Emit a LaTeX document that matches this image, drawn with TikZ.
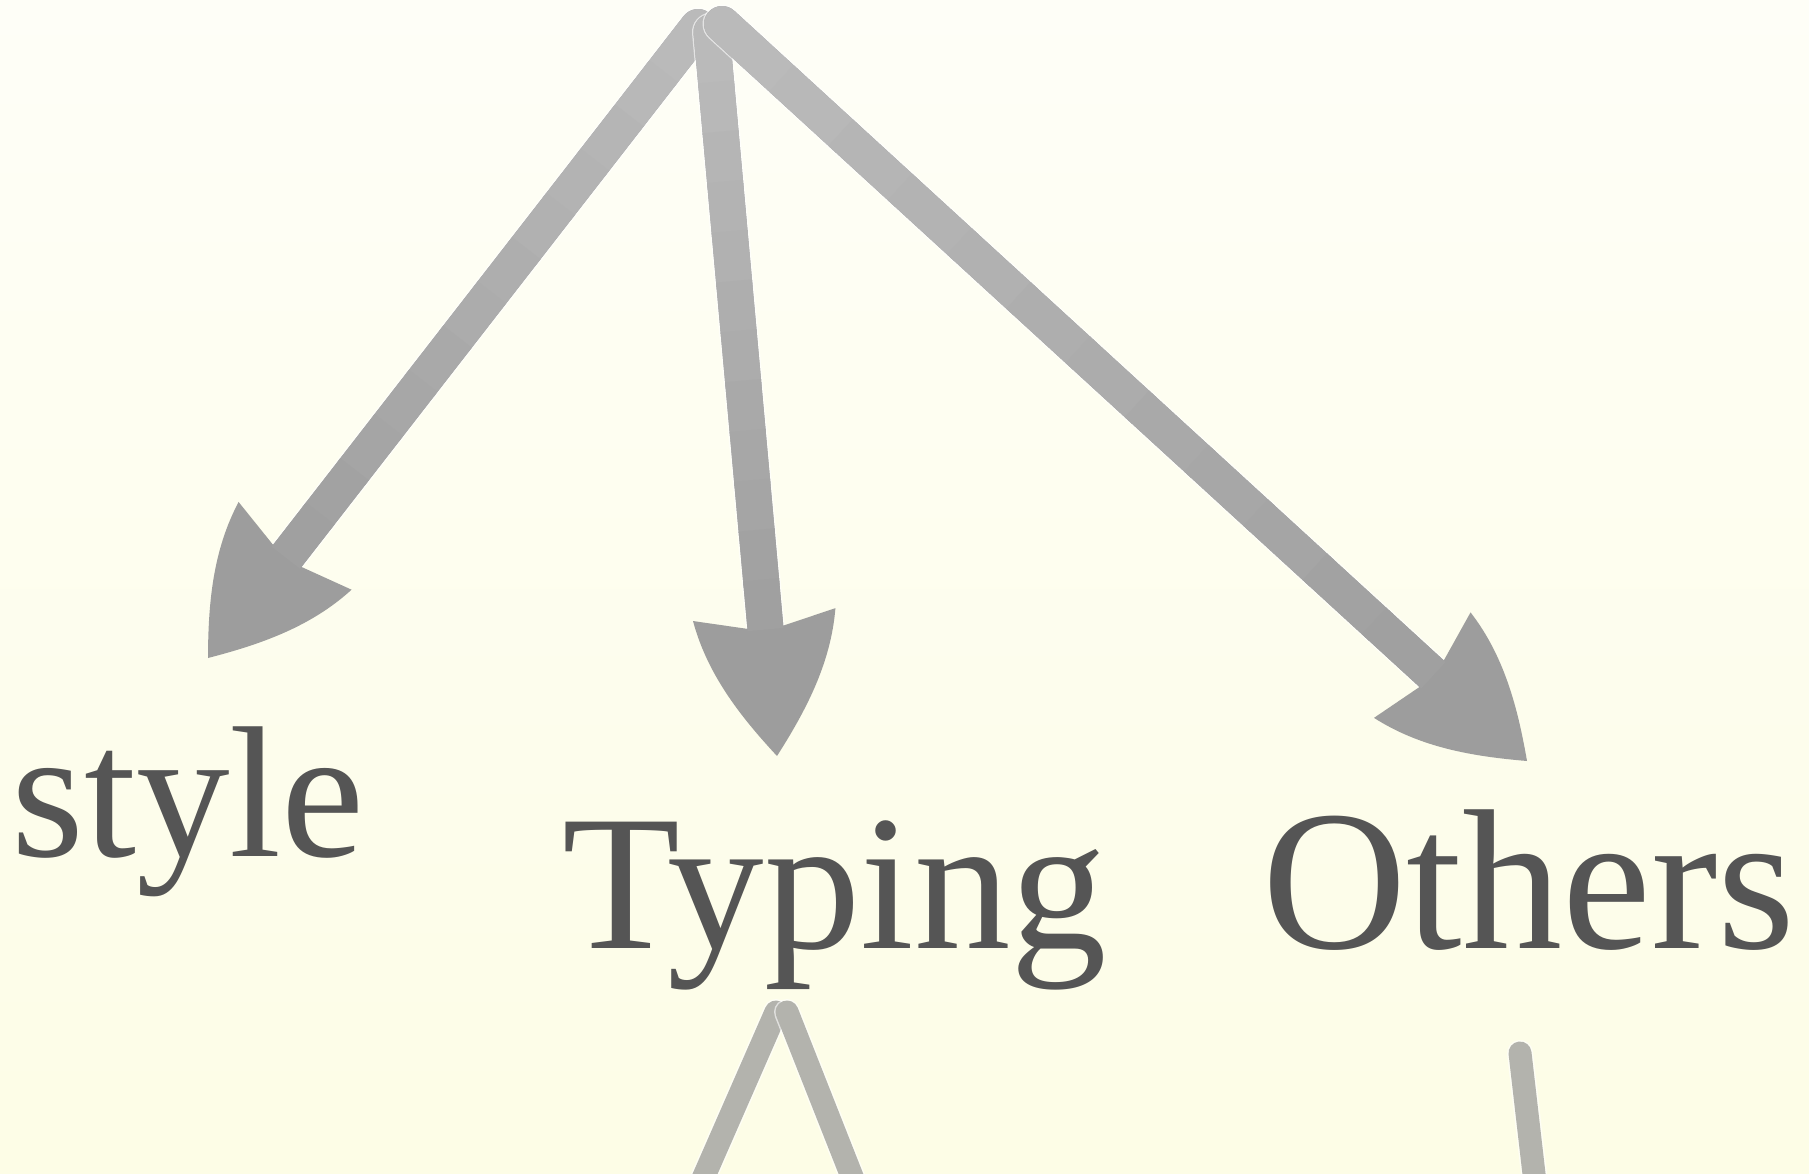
\documentclass[tikz,border=0pt]{standalone}
\usepackage{fontspec}
\setmainfont{Liberation Serif}
\usetikzlibrary{arrows.meta,calc}

\pgfdeclarearrow{
  name = CStealth,
  parameters = {\the\pgfarrowlength,\the\pgfarrowwidth,\the\pgfarrowinset},
  setup code = {
    \pgfarrowssettipend{0pt}
    \pgfarrowssetbackend{-\pgfarrowlength}
    \pgfmathparse{-\pgfarrowlength+\pgfarrowinset}
    \pgfarrowssetlineend{\pgfmathresult pt}
    \pgfarrowssetvisualbackend{\pgfmathresult pt}
    \pgfarrowshullpoint{0pt}{0pt}
    \pgfarrowsupperhullpoint{-\pgfarrowlength}{.5\pgfarrowwidth}
    \pgfarrowssavethe\pgfarrowlength
    \pgfarrowssavethe\pgfarrowwidth
    \pgfarrowssavethe\pgfarrowinset
  },
  drawing code = {
    \pgfpathmoveto{\pgfpointorigin}
    \pgfpathcurveto{\pgfpoint{-.30\pgfarrowlength}{.23\pgfarrowwidth}}{\pgfpoint{-.616\pgfarrowlength}{.434\pgfarrowwidth}}{\pgfpoint{-\pgfarrowlength}{.5\pgfarrowwidth}}
    \pgfpathlineto{\pgfpoint{-\pgfarrowlength+\pgfarrowinset}{0pt}}
    \pgfpathlineto{\pgfpoint{-\pgfarrowlength}{-.5\pgfarrowwidth}}
    \pgfpathcurveto{\pgfpoint{-.616\pgfarrowlength}{-.434\pgfarrowwidth}}{\pgfpoint{-.30\pgfarrowlength}{-.23\pgfarrowwidth}}{\pgfpointorigin}
    \pgfpathclose
    \pgfusepathqfill
  },
  defaults = {length=142pt, width=143pt, inset=17pt}
}

\definecolor{bgtop}{HTML}{FEFEF7}
\definecolor{bgbot}{HTML}{FDFDE6}
\definecolor{txt}{HTML}{555555}
\definecolor{headgray}{HTML}{9D9D9D}
\definecolor{shaftlight}{HTML}{BABABA}
\definecolor{shaftdark}{HTML}{A0A0A0}
\definecolor{thingray}{HTML}{B3B3AD}

\begin{document}
\begin{tikzpicture}[x=1pt,y=-1pt,
  lbl/.style={text=txt, inner sep=0pt, anchor=base},
  halo/.style={line width=39pt, line cap=round, draw=white, draw opacity=0.6},
  edge/.style={line width=36pt, line cap=round, draw=headgray, fill=headgray, -{CStealth}},
  thinedge/.style={line width=23pt, line cap=round, draw=thingray},
  thinhalo/.style={line width=26pt, line cap=round, draw=white, draw opacity=0.6}]
\shade[top color=bgtop, bottom color=bgbot] (0,0) rectangle (1809,1174);
\useasboundingbox (0,0) rectangle (1809,1174);
\clip (0,0) rectangle (1809,1174);

% labels
\node[lbl, font=\fontsize{187pt}{205pt}\selectfont] (style) at (188,856) {style};
\node[lbl, font=\fontsize{193pt}{210pt}\selectfont] (Typing) at (835,948) {Typing};
\node[lbl, font=\fontsize{200pt}{220pt}\selectfont] (Others) at (1529,948) {Others};

% connector ends
\coordinate (r1) at (698,27);
\coordinate (r2) at (711.5,32);
\coordinate (r3) at (722,24);
\coordinate (t1) at (208,658);
\coordinate (t2) at (777,756);
\coordinate (t3) at (1527,761);

\foreach \a/\b in {r1/t1,r2/t2,r3/t3}{
  \draw[halo, shorten >=130pt] (\a) -- (\b);
  \draw[edge] (\a) -- (\b);
  \coordinate (h) at ($(\b)!127pt!(\a)$);
  \draw[line width=36pt, draw=shaftlight, line cap=round] (\a) -- ($(\a)!0.05!(h)$);
  \foreach \k in {0,...,11}{
    \pgfmathsetmacro\p{100*\k/11}
    \pgfmathsetmacro\fa{\k/12}
    \pgfmathsetmacro\fb{min(1,(\k+1)/12+0.01)}
    \draw[line width=36pt, draw=shaftdark!\p!shaftlight, line cap=butt] ($(\a)!\fa!(h)$) -- ($(\a)!\fb!(h)$);
  }
}

% partial edges at the bottom
\coordinate (b1s) at (776,1012);
\coordinate (b1e) at (691,1206);
\coordinate (b2s) at (787,1012);
\coordinate (b2e) at (864,1207);
\coordinate (b3s) at (1520,1053);
\coordinate (b3e) at (1537.7,1206);
\draw[thinhalo] (b1s) -- (b1e);
\draw[thinedge] (b1s) -- (b1e);
\draw[thinhalo] (b2s) -- (b2e);
\draw[thinedge] (b2s) -- (b2e);
\draw[thinhalo] (b3s) -- (b3e);
\draw[thinedge] (b3s) -- (b3e);
\end{tikzpicture}
\end{document}
